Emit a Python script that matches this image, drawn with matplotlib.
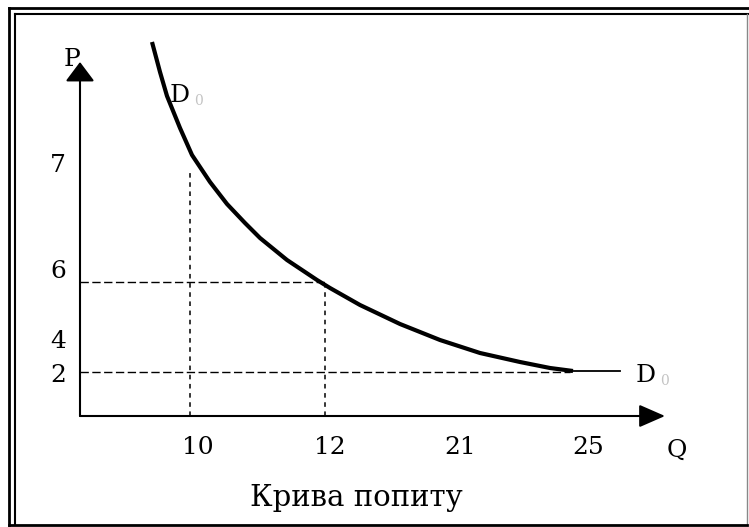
import matplotlib.pyplot as plt
from matplotlib.lines import Line2D

# schematic units: 1 unit = 10 px, origin at the crossing of the axes
q_labels = ['10', '12', '21', '25']
q_label_pos = [11.8, 25.0, 38.0, 50.8]
p_labels = ['7', '6', '4', '2']
p_label_pos = [25.0, 14.5, 7.4, 4.1]

# demand curve D0
curve_q = [7.2, 8.0, 8.7, 10.0, 11.2, 13.0, 14.7, 16.5, 18.0, 20.7, 23.7,
           25.0, 28.0, 32.0, 36.0, 40.0, 44.0, 47.0, 49.3]
curve_p = [37.4, 34.4, 32.0, 28.8, 26.1, 23.4, 21.2, 19.3, 17.8, 15.6, 13.6,
           12.8, 11.1, 9.2, 7.6, 6.3, 5.4, 4.8, 4.5]
tail_q = [49.3, 54.0]
tail_p = [4.5, 4.5]

# guide lines
guide_q = [11.0, 24.5]      # vertical dotted, drop from curve
guide_q_top = [24.6, 13.1]
guide_p = [13.4, 4.4]       # horizontal dashed
guide_p_end = [24.5, 49.0]

fig = plt.figure(figsize=(7.49, 5.27), dpi=100)
ax = fig.add_axes([0, 0, 1, 1])
ax.set_xlim(-8.0, 66.9)
ax.set_ylim(-11.1, 41.6)
for s in ax.spines.values():
    s.set_visible(False)
ax.spines['bottom'].set_position(('data', 0))
ax.spines['left'].set_position(('data', 0))

font = dict(family='DejaVu Serif', size=18)

# axes with arrows
ax.annotate('', xy=(0, 35.4), xytext=(0, 0),
            arrowprops=dict(arrowstyle='-|>,head_length=0.6,head_width=0.45',
                            mutation_scale=20, lw=1.5, color='black',
                            shrinkA=0, shrinkB=0))
ax.annotate('', xy=(58.5, 0), xytext=(0, 0),
            arrowprops=dict(arrowstyle='-|>,head_length=0.8,head_width=0.35',
                            mutation_scale=20, lw=1.5, color='black',
                            shrinkA=0, shrinkB=0))

# guides
for q, top in zip(guide_q, guide_q_top):
    ax.plot([q, q], [0, top], color='black', lw=1.1, linestyle=(0, (3, 3)))
for p, end in zip(guide_p, guide_p_end):
    ax.plot([0, end], [p, p], color='black', lw=1.0, linestyle=(0, (6, 2.5)))

ax.plot(curve_q, curve_p, color='black', lw=3.0, solid_capstyle='butt',
        solid_joinstyle='round')
ax.plot(tail_q, tail_p, color='black', lw=1.3)

# ticks
ax.set_xticks(q_label_pos, q_labels)
ax.set_yticks(p_label_pos, p_labels)
ax.tick_params(length=0)
ax.tick_params(axis='x', pad=22.5)
ax.tick_params(axis='y', pad=15.8)
for lab in ax.get_xticklabels():
    lab.set_fontfamily('DejaVu Serif')
    lab.set_fontsize(18)
    lab.set_va('center')
for lab in ax.get_yticklabels():
    lab.set_fontfamily('DejaVu Serif')
    lab.set_fontsize(18)
    lab.set_ha('center')
    lab.set_va('center')

# axis names and curve labels
ax.text(-0.8, 35.6, 'P', ha='center', va='center', zorder=0, **font)
ax.text(59.7, -3.4, 'Q', ha='center', va='center', **font)
ax.text(9.0, 32.0, 'D', ha='left', va='center', **font)
ax.text(11.4, 31.5, '0', ha='left', va='center', color='#c4c4c4',
        family='DejaVu Serif', size=10)
ax.text(55.6, 4.0, 'D', ha='left', va='center', **font)
ax.text(58.0, 3.5, '0', ha='left', va='center', color='#c4c4c4',
        family='DejaVu Serif', size=10)
ax.text(27.6, -8.2, 'Крива попиту', ha='center', va='center',
        family='DejaVu Serif', size=21)

# double frame around the picture
frame = [
    ([9 / 749, 9 / 749], [2 / 527, 519 / 527], 2.0, 'black'),
    ([9 / 749, 749 / 749], [519 / 527, 519 / 527], 2.0, 'black'),
    ([14.5 / 749, 14.5 / 749], [2 / 527, 513 / 527], 1.5, 'black'),
    ([14.5 / 749, 749 / 749], [513 / 527, 513 / 527], 1.5, 'black'),
    ([747 / 749, 747 / 749], [2 / 527, 513 / 527], 1.0, '#888888'),
    ([9 / 749, 747 / 749], [2.5 / 527, 2.5 / 527], 2.0, 'black'),
]
for xs, ys, w, c in frame:
    fig.add_artist(Line2D(xs, ys, transform=fig.transFigure, lw=w, color=c))

fig.savefig('out.png', dpi=100)
